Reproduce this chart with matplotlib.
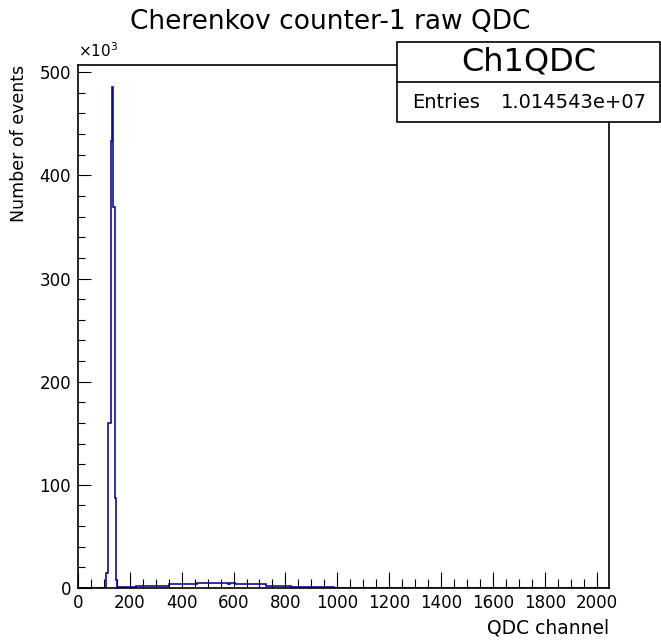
import matplotlib.pyplot as plt
from matplotlib.patches import Rectangle
from matplotlib.lines import Line2D
from matplotlib.ticker import MultipleLocator, FuncFormatter

plt.rcParams["font.family"] = ["DejaVu Sans"]

# histogram: bin edges (QDC channel) and counts per range
bin_edges = [0, 108, 116, 126, 132, 136, 142, 148, 152, 224, 352, 460, 580, 588,
             604, 726, 822, 988, 2048]
bin_counts = [0, 15e3, 160e3, 433e3, 486e3, 369e3, 87e3, 8e3, 0.5e3, 2.0e3, 3.6e3,
              4.8e3, 4.0e3, 4.8e3, 3.6e3, 2.3e3, 1.0e3, 0]

title = "Cherenkov counter-1 raw QDC"
hist_name = "Ch1QDC"
entries = "1.014543e+07"
x_label = "QDC channel"
y_label = "Number of events"

W, H = 661, 641
fig = plt.figure(figsize=(W / 100, H / 100), dpi=100)
ax = fig.add_axes([78 / W, 1 - 588 / H, (609 - 78) / W, (588 - 65) / H])

ax.stairs(bin_counts, bin_edges, color="#0c0c9c", linewidth=1.2)
ax.set_xlim(0, 2048)
ax.set_ylim(0, 507e3)

ax.xaxis.set_major_locator(MultipleLocator(200))
ax.xaxis.set_minor_locator(MultipleLocator(50))
ax.yaxis.set_major_locator(MultipleLocator(100e3))
ax.yaxis.set_minor_locator(MultipleLocator(20e3))
ax.yaxis.set_major_formatter(FuncFormatter(lambda v, p: f"{v / 1e3:.0f}"))

ax.tick_params(which="both", direction="in", top=False, right=False, width=0.8,
               labelsize=12)
ax.tick_params(axis="x", which="major", length=11.5, pad=4)
ax.tick_params(axis="x", which="minor", length=6.5)
ax.tick_params(axis="y", which="major", length=9.5, pad=5)
ax.tick_params(axis="y", which="minor", length=5)
for s in ax.spines.values():
    s.set_linewidth(1.2)

ax.set_xlabel(x_label, fontsize=13.5, loc="right", labelpad=5)
ax.set_ylabel(y_label, fontsize=12.5, loc="top", labelpad=8)

fig.text(0.5, 1 - 22 / H, title, fontsize=19, ha="center", va="center")
fig.text(78 / W, 1 - 51 / H, r"$\times$10$^{3}$", fontsize=11, ha="left",
         va="center")

# stats box
bx0, bx1, by0, by1, bmid = 397, 660, 42, 122, 82
fig.patches.append(Rectangle((bx0 / W, 1 - by1 / H), (bx1 - bx0) / W,
                             (by1 - by0) / H, transform=fig.transFigure,
                             facecolor="white", edgecolor="black", linewidth=1.2))
fig.lines.append(Line2D([bx0 / W, bx1 / W], [1 - bmid / H, 1 - bmid / H],
                        transform=fig.transFigure, color="black", linewidth=1.2))
fig.text((bx0 + bx1) / 2 / W, 1 - 62 / H, hist_name, fontsize=23, ha="center",
         va="center")
fig.text(412 / W, 1 - 102 / H, "Entries", fontsize=14, ha="left", va="center")
fig.text(647 / W, 1 - 102 / H, entries, fontsize=14, ha="right", va="center")

fig.savefig("out.png", dpi=100)
